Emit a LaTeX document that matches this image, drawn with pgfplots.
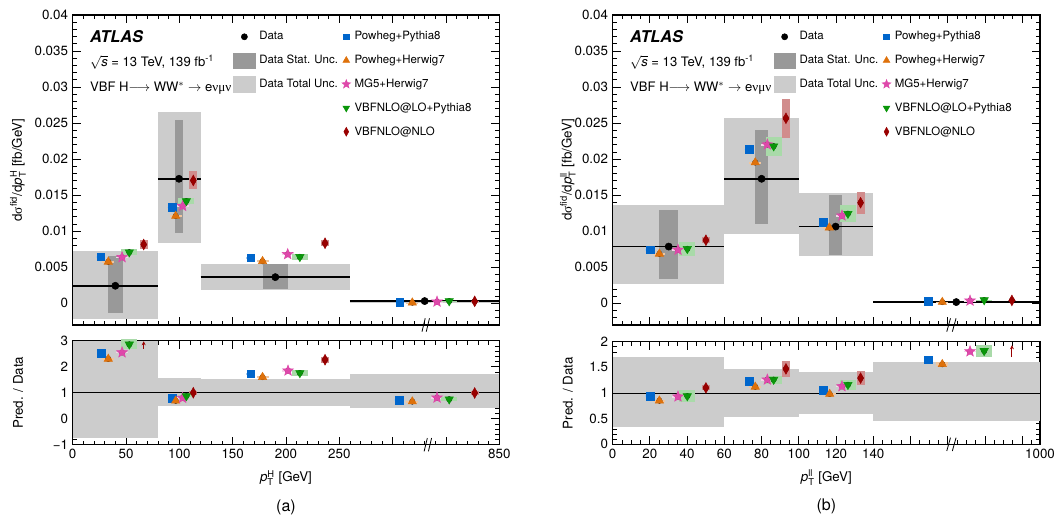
\documentclass[border=0pt]{standalone}
\usepackage{fontspec}
\setmainfont{TeX Gyre Heros}
\newfontfamily\grk{Liberation Serif}
\usepackage{amsmath}
\usepackage{pgfplots}
\pgfplotsset{compat=1.18}
\usetikzlibrary{plotmarks,arrows.meta}

\definecolor{cBlue}{RGB}{0,102,204}
\definecolor{cOrange}{RGB}{222,113,11}
\definecolor{cMag}{RGB}{222,72,170}
\definecolor{cGreen}{RGB}{10,150,10}
\definecolor{cRed}{RGB}{153,0,0}
\definecolor{statgray}{RGB}{153,153,153}
\definecolor{totgray}{RGB}{204,204,204}

\pgfdeclareplotmark{fstar}{%
 \pgfpathmoveto{\pgfpointpolar{90}{\pgfplotmarksize}}%
 \pgfpathlineto{\pgfpointpolar{126}{0.42\pgfplotmarksize}}%
 \pgfpathlineto{\pgfpointpolar{162}{\pgfplotmarksize}}%
 \pgfpathlineto{\pgfpointpolar{198}{0.42\pgfplotmarksize}}%
 \pgfpathlineto{\pgfpointpolar{234}{\pgfplotmarksize}}%
 \pgfpathlineto{\pgfpointpolar{270}{0.42\pgfplotmarksize}}%
 \pgfpathlineto{\pgfpointpolar{306}{\pgfplotmarksize}}%
 \pgfpathlineto{\pgfpointpolar{342}{0.42\pgfplotmarksize}}%
 \pgfpathlineto{\pgfpointpolar{18}{\pgfplotmarksize}}%
 \pgfpathlineto{\pgfpointpolar{54}{0.42\pgfplotmarksize}}%
 \pgfpathclose
 \pgfusepathqfillstroke}

\pgfplotsset{
 datam/.style={only marks, mark=*, mark size=2.7pt, color=black},
 pp8/.style={only marks, mark=square*, mark size=2.9pt, color=cBlue},
 ph7/.style={only marks, mark=triangle*, mark size=3.6pt, color=cOrange},
 mg5/.style={only marks, mark=fstar, mark size=4.2pt, color=cMag},
 lo/.style={only marks, mark=triangle*, mark size=3.6pt, mark options={rotate=180}, color=cGreen},
 nlo/.style={only marks, mark=diamond*, mark size=4pt, mark options={xscale=0.72}, color=cRed},
 boxleg/.style={legend image code/.code={\fill[#1] (0.02cm,-0.2cm) rectangle (0.58cm,0.2cm);}},
 unc/.style 2 args={forget plot, only marks, mark=none, error bars/.cd, y dir=both, y explicit, error mark=none, error bar style={line width=#1, draw=#2}},
 band/.style={forget plot, fill=#1, draw=none},
 base/.style={scale only axis, anchor=south west, clip=false,
   scaled ticks=false,
   tick align=inside, major tick length=6pt, minor tick length=3pt,
   every tick/.style={black, line width=0.6pt},
   axis line style={line width=0.8pt},
   tick label style={font=\fontsize{10}{12}\selectfont},
   label style={font=\fontsize{10}{12}\selectfont}},
 myleg/.style={legend columns=2, legend cell align=left,
  legend style={at={(axis description cs:0.3758,0.955)}, anchor=north west, draw=none, fill=none,
    inner sep=0pt, outer sep=0pt,
    font=\fontsize{8.6}{10}\selectfont, row sep=5.9pt, column sep=0pt,
    nodes={inner xsep=3pt}}},
}

\newcommand{\mylegend}{%
\addlegendimage{datam, mark size=2.3pt}\addlegendentry{Data}
\addlegendimage{pp8, mark size=2.2pt}\addlegendentry{Powheg+Pythia8}
\addlegendimage{boxleg=statgray}\addlegendentry{Data Stat. Unc.}
\addlegendimage{ph7, mark size=2.9pt}\addlegendentry{Powheg+Herwig7}
\addlegendimage{boxleg=totgray}\addlegendentry{Data Total Unc.}
\addlegendimage{mg5, mark size=3.4pt}\addlegendentry{MG5+Herwig7}
\addlegendimage{empty legend}\addlegendentry{}
\addlegendimage{lo, mark size=2.9pt}\addlegendentry{VBFNLO@LO+Pythia8}
\addlegendimage{empty legend}\addlegendentry{}
\addlegendimage{nlo, mark size=3.3pt}\addlegendentry{VBFNLO@NLO}}

\begin{document}
\begin{tikzpicture}
\useasboundingbox (0,0) rectangle (792pt,393.75pt);

%================ LEFT MAIN =================
\begin{axis}[base, myleg, at={(54.5pt,150pt)}, width=320pt, height=232.5pt,
  xmin=0, xmax=400, ymin=-0.003, ymax=0.04,
  xtick={0,50,...,400}, minor xtick={0,10,...,400}, xticklabels={},
  ytick={0,0.005,0.01,0.015,0.02,0.025,0.03,0.035,0.04},
  yticklabels={0,0.005,0.01,0.015,0.02,0.025,0.03,0.035,0.04},
  minor ytick={-0.002,-0.001,...,0.04},
  ylabel={d{\grk σ}$^{\text{fid}}$/d$\text{\itshape p}_{\text{T}}^{\text{H}}$ [fb/GeV]},
  every axis y label/.style={at={(axis description cs:-0.128,0.5)}, rotate=90, anchor=center},
]
\mylegend
% total uncertainty
\addplot[band=totgray] coordinates {(0,-0.0021)(80,-0.0021)(80,0.0072)(0,0.0072)} -- cycle;
\addplot[band=totgray] coordinates {(80,0.0084)(120,0.0084)(120,0.0266)(80,0.0266)} -- cycle;
\addplot[band=totgray] coordinates {(120,0.0018)(260,0.0018)(260,0.0055)(120,0.0055)} -- cycle;
\addplot[band=totgray] coordinates {(260,0.0001)(400,0.0001)(400,0.0005)(260,0.0005)} -- cycle;
% stat uncertainty
\addplot[band=statgray] coordinates {(33.4,-0.0014)(46.9,-0.0014)(46.9,0.0066)(33.4,0.0066)} -- cycle;
\addplot[band=statgray] coordinates {(96,0.0097)(103.4,0.0097)(103.4,0.0255)(96,0.0255)} -- cycle;
\addplot[band=statgray] coordinates {(178,0.0020)(202,0.0020)(202,0.0054)(178,0.0054)} -- cycle;
% data lines
\addplot[forget plot, black, line width=1.1pt] coordinates {(0,0.00244)(80,0.00244)};
\addplot[forget plot, black, line width=1.1pt] coordinates {(80,0.01728)(120,0.01728)};
\addplot[forget plot, black, line width=1.1pt] coordinates {(120,0.00364)(260,0.00364)};
\addplot[forget plot, black, line width=1.6pt] coordinates {(260,0.00032)(400,0.00032)};
% prediction uncertainties
\addplot[unc={7pt}{cBlue!35}] coordinates {(26.3,0.00645)+-(0,0.00008)(93.1,0.01332)+-(0,0.0001)(166.9,0.00631)+-(0,0.00008)(306.6,0.00018)+-(0,0.00002)};
\addplot[unc={9pt}{cOrange!40}] coordinates {(33.4,0.00576)+-(0,0.0001)(96.6,0.01212)+-(0,0.0001)(178,0.00585)+-(0,0.0001)(318.4,0.0001)+-(0,0.00002)};
\addplot[unc={9pt}{cMag!25}] coordinates {(46.3,0.0064)+-(0,0.0001)(103.1,0.0135)+-(0,0.0001)(201.6,0.00682)+-(0,0.0001)(341.6,0.00023)+-(0,0.00002)};
\addplot[unc={12pt}{cGreen!35}] coordinates {(53.1,0.0071)+-(0,0.0004)(106.6,0.0142)+-(0,0.0004)(213,0.00645)+-(0,0.00045)(353,0.00032)+-(0,0.00003)};
\addplot[unc={6pt}{cRed!45}] coordinates {(66.6,0.00816)+-(0,0.00065)(113.1,0.01705)+-(0,0.00125)(236.6,0.00834)+-(0,0.0004)(376.9,0.00028)+-(0,0.00003)};
% markers
\addplot[datam, forget plot] coordinates {(40,0.00244)(99.7,0.01728)(190,0.00364)(330,0.00032)};
\addplot[pp8, forget plot] coordinates {(26.3,0.00645)(93.1,0.01332)(166.9,0.00631)(306.6,0.00018)};
\addplot[ph7, forget plot] coordinates {(33.4,0.00576)(96.6,0.01212)(178,0.00585)(318.4,0.0001)};
\addplot[mg5, forget plot] coordinates {(46.3,0.0064)(103.1,0.0135)(201.6,0.00682)(341.6,0.00023)};
\addplot[lo, forget plot] coordinates {(53.1,0.0071)(106.6,0.0142)(213,0.00645)(353,0.00032)};
\addplot[nlo, forget plot] coordinates {(66.6,0.00816)(113.1,0.01705)(236.6,0.00834)(376.9,0.00028)};
% break marks
\draw[line width=0.6pt] ([yshift=-5pt]axis cs:327.5,-0.003) -- ([yshift=5pt]axis cs:330.5,-0.003);
\draw[line width=0.6pt] ([yshift=-5pt]axis cs:331.5,-0.003) -- ([yshift=5pt]axis cs:334.5,-0.003);
% texts
\node[anchor=west, font=\fontsize{12.2}{14}\selectfont\bfseries\itshape] at (axis description cs:0.03,0.932) {ATLAS};
\node[anchor=west, font=\fontsize{9.8}{12}\selectfont] at (axis description cs:0.03,0.848) {$\sqrt{\text{\itshape s}}$ = 13 TeV, 139 fb\textsuperscript{-1}};
\node[anchor=west, font=\fontsize{9.8}{12}\selectfont] at (axis description cs:0.03,0.765) {VBF H$\longrightarrow$ WW$^{*}$ $\rightarrow$ e{\grk νμν}};
\end{axis}

%================ LEFT RATIO =================
\begin{axis}[base, at={(54.5pt,60.2pt)}, width=320pt, height=78pt,
  xmin=0, xmax=400, ymin=-1, ymax=3,
  xtick={0,50,...,400}, minor xtick={0,10,...,400},
  xticklabels={0,50,100,150,200,250,{},{},850},
  ytick={-1,0,1,2,3}, yticklabels={−1,0,1,2,3},
  minor ytick={-0.8,-0.6,...,3},
  ylabel={Pred. / Data},
  every axis y label/.style={at={(axis description cs:-0.128,0.5)}, rotate=90, anchor=center},
  xlabel={$\text{\itshape p}_{\text{T}}^{\text{H}}$ [GeV]},
  every axis x label/.style={at={(axis description cs:0.5,0)}, anchor=center, yshift=-25pt},
]
\addplot[band=totgray] coordinates {(0,-0.75)(80,-0.75)(80,3)(0,3)} -- cycle;
\addplot[band=totgray] coordinates {(80,0.49)(120,0.49)(120,1.56)(80,1.56)} -- cycle;
\addplot[band=totgray] coordinates {(120,0.49)(260,0.49)(260,1.53)(120,1.53)} -- cycle;
\addplot[band=totgray] coordinates {(260,0.43)(400,0.43)(400,1.71)(260,1.71)} -- cycle;
\addplot[forget plot, black, line width=0.6pt] coordinates {(0,1)(400,1)};
\addplot[unc={7pt}{cBlue!35}] coordinates {(26.9,2.52)+-(0,0.03)(93.4,0.78)+-(0,0.02)(166.9,1.73)+-(0,0.03)(306,0.71)+-(0,0.03)};
\addplot[unc={9pt}{cOrange!40}] coordinates {(33.4,2.30)+-(0,0.04)(96.6,0.69)+-(0,0.03)(178,1.6)+-(0,0.04)(318.4,0.66)+-(0,0.04)};
\addplot[unc={9pt}{cMag!25}] coordinates {(46.3,2.55)+-(0,0.03)(103.1,0.8)+-(0,0.02)(201.9,1.85)+-(0,0.03)(341.6,0.81)+-(0,0.03)};
\addplot[unc={12pt}{cGreen!35}] coordinates {(53.1,2.86)+-(0,0.19)(106.6,0.87)+-(0,0.05)(213,1.76)+-(0,0.1)(353,0.75)+-(0,0.07)};
\addplot[unc={6pt}{cRed!45}] coordinates {(113.1,1.0)+-(0,0.07)(236.6,2.27)+-(0,0.11)(376.9,0.99)+-(0,0.08)};
\addplot[pp8, forget plot] coordinates {(26.9,2.52)(93.4,0.78)(166.9,1.73)(306,0.71)};
\addplot[ph7, forget plot] coordinates {(33.4,2.30)(96.6,0.69)(178,1.6)(318.4,0.66)};
\addplot[mg5, forget plot] coordinates {(46.3,2.55)(103.1,0.8)(201.9,1.85)(341.6,0.81)};
\addplot[lo, forget plot] coordinates {(53.1,2.86)(106.6,0.87)(213,1.76)(353,0.75)};
\addplot[nlo, forget plot] coordinates {(113.1,1.0)(236.6,2.27)(376.9,0.99)};
\addplot[forget plot, cRed, line width=0.8pt, -{Stealth[length=3pt,width=3pt]}] coordinates {(66.6,2.7)(66.6,2.98)};
\draw[line width=0.6pt] ([yshift=-5pt]axis cs:329.5,-1) -- ([yshift=5pt]axis cs:332.5,-1);
\draw[line width=0.6pt] ([yshift=-5pt]axis cs:333.5,-1) -- ([yshift=5pt]axis cs:336.5,-1);
\node[font=\fontsize{12}{14}\selectfont] at ([yshift=-46.7pt]axis description cs:0.5,0) {(a)};
\end{axis}

%================ RIGHT MAIN =================
\begin{axis}[base, myleg, at={(459.5pt,150pt)}, width=320.5pt, height=232.5pt,
  xmin=0, xmax=229.6, ymin=-0.003, ymax=0.04,
  xtick={0,20,...,220,229.6}, minor xtick={0,5,...,225}, xticklabels={},
  ytick={0,0.005,0.01,0.015,0.02,0.025,0.03,0.035,0.04},
  yticklabels={0,0.005,0.01,0.015,0.02,0.025,0.03,0.035,0.04},
  minor ytick={-0.002,-0.001,...,0.04},
  ylabel={d{\grk σ}$^{\text{fid}}$/d$\text{\itshape p}_{\text{T}}^{\text{ll}}$ [fb/GeV]},
  every axis y label/.style={at={(axis description cs:-0.105,0.5)}, rotate=90, anchor=center},
]
\mylegend
\addplot[band=totgray] coordinates {(0,0.00267)(60,0.00267)(60,0.0136)(0,0.0136)} -- cycle;
\addplot[band=totgray] coordinates {(60,0.00958)(100,0.00958)(100,0.02576)(60,0.02576)} -- cycle;
\addplot[band=totgray] coordinates {(100,0.00654)(140,0.00654)(140,0.01525)(100,0.01525)} -- cycle;
\addplot[band=totgray] coordinates {(140,0.00005)(229.6,0.00005)(229.6,0.0003)(140,0.0003)} -- cycle;
\addplot[band=statgray] coordinates {(25,0.00336)(35.1,0.00336)(35.1,0.0129)(25,0.0129)} -- cycle;
\addplot[band=statgray] coordinates {(76.5,0.0110)(83.4,0.0110)(83.4,0.0241)(76.5,0.0241)} -- cycle;
\addplot[band=statgray] coordinates {(116.2,0.00668)(123.2,0.00668)(123.2,0.01498)(116.2,0.01498)} -- cycle;
\addplot[forget plot, black, line width=1.1pt] coordinates {(0,0.00788)(60,0.00788)};
\addplot[forget plot, black, line width=1.1pt] coordinates {(60,0.01728)(100,0.01728)};
\addplot[forget plot, black, line width=1.1pt] coordinates {(100,0.01065)(140,0.01065)};
\addplot[forget plot, black, line width=1.6pt] coordinates {(140,0.00018)(229.6,0.00018)};
\addplot[unc={7pt}{cBlue!35}] coordinates {(20.1,0.00742)+-(0,0.0001)(73.2,0.02138)+-(0,0.0001)(113.3,0.01129)+-(0,0.0001)(169.7,0.00032)+-(0,0.00002)};
\addplot[unc={9pt}{cOrange!40}] coordinates {(25.1,0.00687)+-(0,0.0001)(76.6,0.01954)+-(0,0.0001)(116.4,0.01051)+-(0,0.0001)(177.1,0.00018)+-(0,0.00002)};
\addplot[unc={9pt}{cMag!25}] coordinates {(35.1,0.00742)+-(0,0.0001)(83.1,0.02203)+-(0,0.0001)(123.2,0.01217)+-(0,0.0001)(192,0.00037)+-(0,0.00002)};
\addplot[unc={12pt}{cGreen!35}] coordinates {(40.1,0.00756)+-(0,0.001)(86.5,0.0218)+-(0,0.0013)(126.4,0.01244)+-(0,0.0012)(199.6,0.00046)+-(0,0.00003)};
\addplot[unc={6pt}{cRed!45}] coordinates {(50.1,0.00876)+-(0,0.0004)(93.1,0.02567)+-(0,0.0027)(133.2,0.01396)+-(0,0.0015)(214.5,0.00041)+-(0,0.00003)};
\addplot[datam, forget plot] coordinates {(30.1,0.00788)(80,0.01728)(119.8,0.01065)(184.6,0.00018)};
\addplot[pp8, forget plot] coordinates {(20.1,0.00742)(73.2,0.02138)(113.3,0.01129)(169.7,0.00032)};
\addplot[ph7, forget plot] coordinates {(25.1,0.00687)(76.6,0.01954)(116.4,0.01051)(177.1,0.00018)};
\addplot[mg5, forget plot] coordinates {(35.1,0.00742)(83.1,0.02203)(123.2,0.01217)(192,0.00037)};
\addplot[lo, forget plot] coordinates {(40.1,0.00756)(86.5,0.0218)(126.4,0.01244)(199.6,0.00046)};
\addplot[nlo, forget plot] coordinates {(50.1,0.00876)(93.1,0.02567)(133.2,0.01396)(214.5,0.00041)};
\draw[line width=0.6pt] ([yshift=-5pt]axis cs:179.5,-0.003) -- ([yshift=5pt]axis cs:181.5,-0.003);
\draw[line width=0.6pt] ([yshift=-5pt]axis cs:182.5,-0.003) -- ([yshift=5pt]axis cs:184.5,-0.003);
\node[anchor=west, font=\fontsize{12.2}{14}\selectfont\bfseries\itshape] at (axis description cs:0.03,0.932) {ATLAS};
\node[anchor=west, font=\fontsize{9.8}{12}\selectfont] at (axis description cs:0.03,0.848) {$\sqrt{\text{\itshape s}}$ = 13 TeV, 139 fb\textsuperscript{-1}};
\node[anchor=west, font=\fontsize{9.8}{12}\selectfont] at (axis description cs:0.03,0.765) {VBF H$\longrightarrow$ WW$^{*}$ $\rightarrow$ e{\grk νμν}};
\end{axis}

%================ RIGHT RATIO =================
\begin{axis}[base, at={(459.5pt,60.5pt)}, width=320.5pt, height=77pt,
  xmin=0, xmax=229.6, ymin=0, ymax=2,
  xtick={0,20,...,220,229.6}, minor xtick={0,5,...,225},
  xticklabels={0,20,40,60,80,100,120,140,{},{},{},{},1000},
  ytick={0,0.5,1,1.5,2}, yticklabels={0,0.5,1,1.5,2},
  minor ytick={0.1,0.2,...,1.95},
  ylabel={Pred. / Data},
  every axis y label/.style={at={(axis description cs:-0.105,0.5)}, rotate=90, anchor=center},
  xlabel={$\text{\itshape p}_{\text{T}}^{\text{ll}}$ [GeV]},
  every axis x label/.style={at={(axis description cs:0.5,0)}, anchor=center, yshift=-25pt},
]
\addplot[band=totgray] coordinates {(0,0.33)(60,0.33)(60,1.70)(0,1.70)} -- cycle;
\addplot[band=totgray] coordinates {(60,0.54)(100,0.54)(100,1.47)(60,1.47)} -- cycle;
\addplot[band=totgray] coordinates {(100,0.60)(140,0.60)(140,1.41)(100,1.41)} -- cycle;
\addplot[band=totgray] coordinates {(140,0.46)(229.6,0.46)(229.6,1.61)(140,1.61)} -- cycle;
\addplot[forget plot, black, line width=0.6pt] coordinates {(0,1)(229.6,1)};
\addplot[unc={7pt}{cBlue!35}] coordinates {(20.1,0.94)+-(0,0.015)(73.4,1.23)+-(0,0.015)(113.3,1.06)+-(0,0.015)(169.7,1.65)+-(0,0.03)};
\addplot[unc={9pt}{cOrange!40}] coordinates {(25.1,0.85)+-(0,0.02)(76.6,1.12)+-(0,0.02)(116.6,0.98)+-(0,0.02)(177.1,1.56)+-(0,0.04)};
\addplot[unc={9pt}{cMag!25}] coordinates {(35.1,0.93)+-(0,0.015)(83.1,1.26)+-(0,0.015)(123.2,1.13)+-(0,0.015)(192,1.81)+-(0,0.015)};
\addplot[unc={12pt}{cGreen!35}] coordinates {(40.1,0.94)+-(0,0.12)(86.5,1.26)+-(0,0.08)(126.4,1.16)+-(0,0.1)(199.6,1.82)+-(0,0.11)};
\addplot[unc={6pt}{cRed!45}] coordinates {(50.1,1.10)+-(0,0.05)(93.1,1.47)+-(0,0.15)(133.2,1.29)+-(0,0.14)};
\addplot[pp8, forget plot] coordinates {(20.1,0.94)(73.4,1.23)(113.3,1.06)(169.7,1.65)};
\addplot[ph7, forget plot] coordinates {(25.1,0.85)(76.6,1.12)(116.6,0.98)(177.1,1.56)};
\addplot[mg5, forget plot] coordinates {(35.1,0.93)(83.1,1.26)(123.2,1.13)(192,1.81)};
\addplot[lo, forget plot] coordinates {(40.1,0.94)(86.5,1.26)(126.4,1.16)(199.6,1.82)};
\addplot[nlo, forget plot] coordinates {(50.1,1.10)(93.1,1.47)(133.2,1.29)};
\addplot[forget plot, cRed, line width=0.8pt, -{Stealth[length=3pt,width=3pt]}] coordinates {(214.5,1.7)(214.5,1.93)};
\draw[line width=0.6pt] ([yshift=-5pt]axis cs:179.5,0) -- ([yshift=5pt]axis cs:181.5,0);
\draw[line width=0.6pt] ([yshift=-5pt]axis cs:182.5,0) -- ([yshift=5pt]axis cs:184.5,0);
\node[font=\fontsize{12}{14}\selectfont] at ([yshift=-46.7pt]axis description cs:0.5,0) {(b)};
\end{axis}
\end{tikzpicture}
\end{document}
